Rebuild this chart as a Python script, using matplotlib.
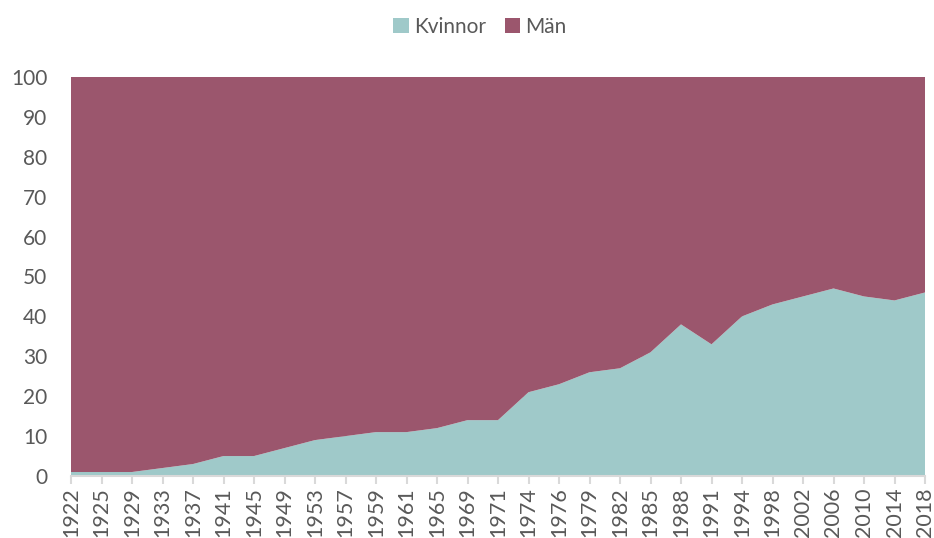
import matplotlib
matplotlib.use("Agg")
import matplotlib.pyplot as plt
import numpy as np

years = ["1922", "1925", "1929", "1933", "1937", "1941", "1945", "1949", "1953", "1957",
         "1959", "1961", "1965", "1969", "1971", "1974", "1976", "1979", "1982", "1985",
         "1988", "1991", "1994", "1998", "2002", "2006", "2010", "2014", "2018"]
kvinnor = [1, 1, 1, 2, 3, 5, 5, 7, 9, 10,
           11, 11, 12, 14, 14, 21, 23, 26, 27, 31,
           38, 33, 40, 43, 45, 47, 45, 44, 46]
man = [99, 99, 99, 98, 97, 95, 95, 93, 91, 90,
       89, 89, 88, 86, 86, 79, 77, 74, 73, 69,
       62, 67, 60, 57, 55, 53, 55, 56, 54]
yticks = [0, 10, 20, 30, 40, 50, 60, 70, 80, 90, 100]

plt.rcParams['font.family'] = ['Lato', 'DejaVu Sans']
text_color = "#595959"
c_k = "#9FC9C9"
c_m = "#9B566D"

fig = plt.figure(figsize=(9.34, 5.38), dpi=100)
ax = fig.add_axes([71/934, 62/538, (925-71)/934, (476-77)/538])

x = np.arange(len(years))
ax.stackplot(x, kvinnor, man, colors=[c_k, c_m], labels=["Kvinnor", "Män"], zorder=2)

ax.set_xlim(0, len(years) - 1)
ax.set_ylim(0, 100)
ax.set_yticks(yticks)
ax.set_yticklabels([str(v) for v in yticks])
ax.set_xticks(x)
ax.set_xticklabels(years, rotation=90)
ax.grid(axis='y', color="#d9d9d9", linewidth=1, zorder=0)
ax.set_axisbelow(True)

for s in ['top', 'right', 'left']:
    ax.spines[s].set_visible(False)
ax.spines['bottom'].set_color("#d9d9d9")
ax.spines['bottom'].set_linewidth(1.5)
ax.spines['bottom'].set_zorder(3)

ax.tick_params(axis='y', length=0, pad=17, labelsize=15, labelcolor=text_color)
ax.tick_params(axis='x', length=6, width=1.5, color="#d9d9d9", pad=2, labelsize=15.5, labelcolor=text_color)

leg = fig.legend(loc='upper center', bbox_to_anchor=(480/934, 1.0), ncol=2, frameon=False,
                 fontsize=15, handlelength=0.75, handleheight=0.75, handletextpad=0.25,
                 columnspacing=0.9, borderaxespad=0.4)
for t in leg.get_texts():
    t.set_color(text_color)

fig.savefig("out.png", dpi=100)
